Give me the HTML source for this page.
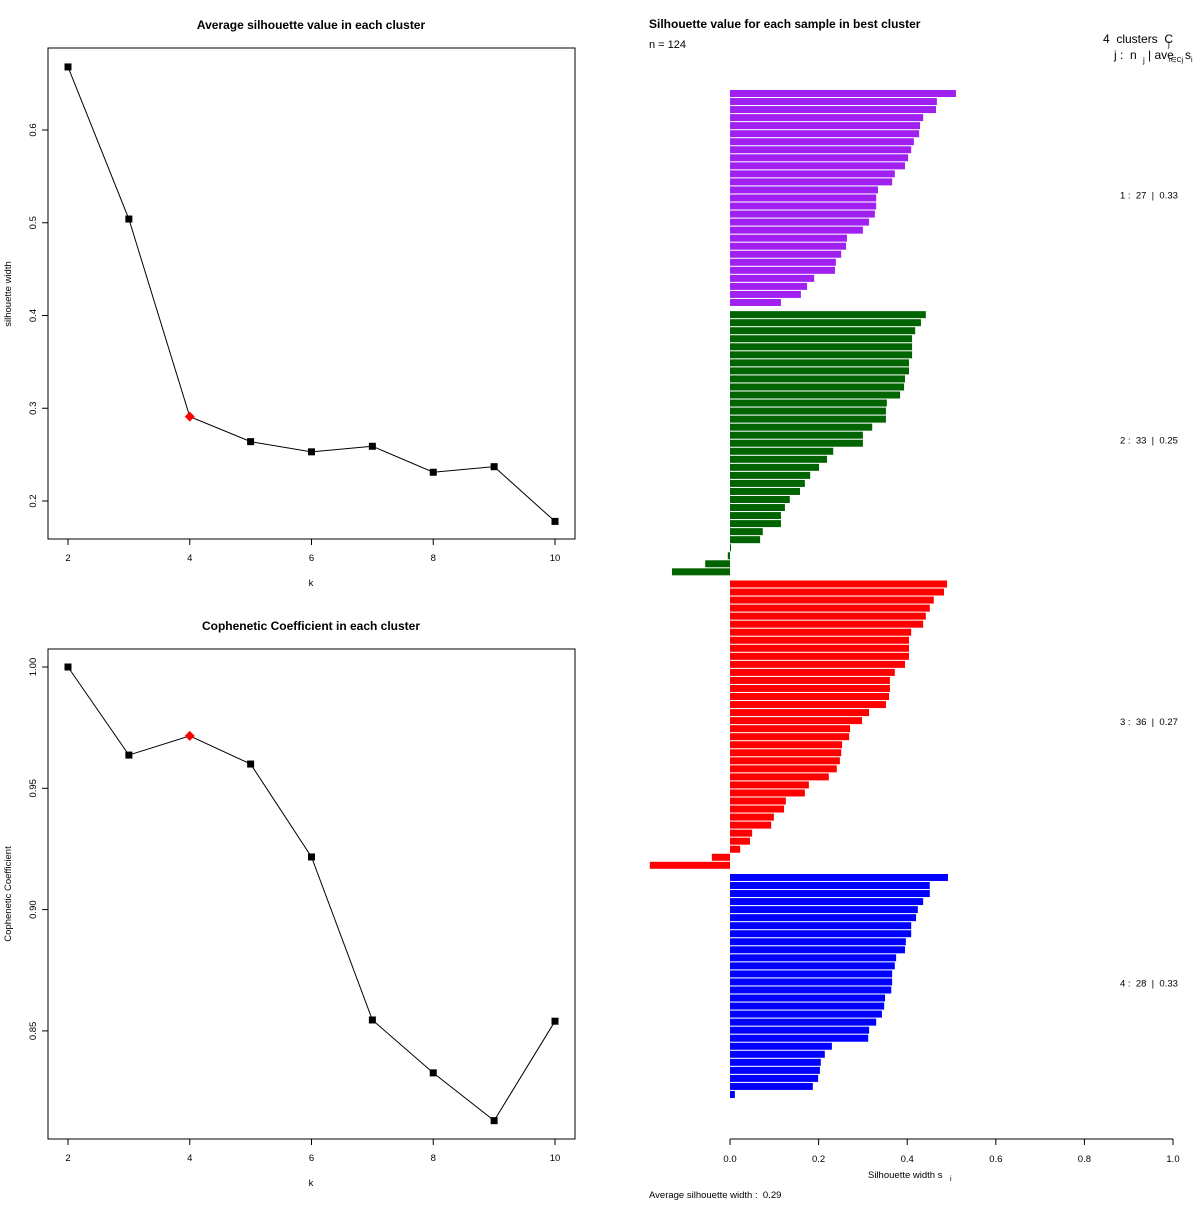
<!DOCTYPE html>
<html><head><meta charset="utf-8"><style>
body{margin:0;background:#fff;font-family:"Liberation Sans",sans-serif;}
svg text{font-family:"Liberation Sans",sans-serif;white-space:pre;}
</style></head><body>
<svg id="c" width="1200" height="1200" viewBox="0 0 1200 1200" xmlns="http://www.w3.org/2000/svg">
<rect width="1200" height="1200" fill="#fff"/>
</svg>
<script>
const ks=[2,3,4,5,6,7,8,9,10];
const silAvg=[0.668,0.504,0.291,0.264,0.253,0.259,0.231,0.237,0.178];
const coph=[1.0,0.9637,0.9716,0.960,0.9217,0.8545,0.8327,0.813,0.854];
const bestIdx=2;
const silTicks=[0.2,0.3,0.4,0.5,0.6];
const cophTicks=[0.85,0.90,0.95,1.00];
const kTicks=[2,4,6,8,10];
const c1=[0.51,0.467,0.465,0.436,0.429,0.427,0.415,0.409,0.402,0.395,0.372,0.366,0.334,0.330,0.330,0.327,0.314,0.300,0.264,0.262,0.251,0.239,0.237,0.190,0.174,0.160,0.115];
const c2=[0.442,0.431,0.418,0.411,0.411,0.411,0.404,0.404,0.395,0.393,0.384,0.354,0.352,0.352,0.321,0.300,0.300,0.233,0.219,0.201,0.181,0.169,0.158,0.135,0.124,0.115,0.115,0.074,0.068,0.0,-0.005,-0.056,-0.131];
const c3=[0.490,0.483,0.460,0.451,0.442,0.436,0.409,0.404,0.404,0.404,0.395,0.372,0.361,0.361,0.359,0.352,0.314,0.298,0.271,0.269,0.253,0.251,0.248,0.241,0.223,0.178,0.169,0.126,0.122,0.099,0.093,0.050,0.045,0.023,-0.041,-0.181];
const c4=[0.492,0.451,0.451,0.436,0.424,0.420,0.409,0.409,0.397,0.395,0.375,0.372,0.366,0.366,0.364,0.350,0.348,0.343,0.330,0.314,0.312,0.230,0.214,0.205,0.203,0.199,0.187,0.011];
const clusters=[c1,c2,c3,c4];
const clusterColors=["#A020F0","#006400","#FF0000","#0000FF"];
const clusterLabels=["1 :  27  |  0.33","2 :  33  |  0.25","3 :  36  |  0.27","4 :  28  |  0.33"];
const sTicks=[0,0.2,0.4,0.6,0.8,1.0];
const sTickLabels=["0.0","0.2","0.4","0.6","0.8","1.0"];

const svg=document.getElementById('c');
const NS="http://www.w3.org/2000/svg";
function el(tag,attrs,parent){const e=document.createElementNS(NS,tag);for(const k in attrs)e.setAttribute(k,attrs[k]);(parent||svg).appendChild(e);return e;}
function txt(x,y,s,attrs){const e=el('text',Object.assign({x:x,y:y,'font-size':9.5,fill:'#000'},attrs||{}));e.textContent=s;return e;}

const kx=k=>68+(k-2)*60.875;
function linePanel(top,bottom,ymap,vals,ticks,fmt,title,ylab,ylabY,pname){
  const g=el('g',{});
  
  
  const t=txt(311,top-19,title,{'font-size':12,'font-weight':'bold','text-anchor':'middle'});
  
  el('rect',{x:48,y:top,width:527,height:bottom-top,fill:'none',stroke:'#000'},g);
  kTicks.forEach(k=>{el('line',{x1:kx(k),x2:kx(k),y1:bottom,y2:bottom+6,stroke:'#000'},g);
    const l=txt(kx(k),bottom+22,String(k),{'text-anchor':'middle'});});
  ticks.forEach(v=>{const y=ymap(v);el('line',{x1:42,x2:48,y1:y,y2:y,stroke:'#000'},g);
    const l=txt(36,y,fmt(v),{'text-anchor':'middle',transform:`rotate(-90 36 ${y})`});});
  const xl=txt(311,bottom+47,'k',{'text-anchor':'middle'});
  const yl=txt(11,ylabY,ylab,{'text-anchor':'middle',transform:`rotate(-90 11 ${ylabY})`});
  const pts=ks.map((k,i)=>kx(k)+','+ymap(vals[i])).join(' ');
  const pl=el('polyline',{points:pts,fill:'none',stroke:'#000','stroke-width':1},g);
  
  ks.forEach((k,i)=>{const x=kx(k),y=ymap(vals[i]);
    if(i===bestIdx){const p=el('polygon',{points:`${x},${y-5} ${x+5},${y} ${x},${y+5} ${x-5},${y}`,fill:'#FF0000'},g);
      }
    else{const p=el('rect',{x:x-3.5,y:y-3.5,width:7,height:7,fill:'#000'},g);
      }
  });
}
const y1=v=>501-(v-0.2)*927.5;
linePanel(48,539,y1,silAvg,silTicks,v=>v.toFixed(1),'Average silhouette value in each cluster','silhouette width',294,'silhouette-panel');
const y2=v=>667+(1.0-v)*2426;
linePanel(649,1139,y2,coph,cophTicks,v=>v.toFixed(2),'Cophenetic Coefficient in each cluster','Cophenetic Coefficient',894,'cophenetic-panel');

// silhouette plot
const sx=v=>730+v*443;
const step=8.037,top0=90,gapF=0.515;
let gi=0;
const t=txt(649,28,'Silhouette value for each sample in best cluster',{'font-size':12,'font-weight':'bold'});

const n=txt(649,48,'n = 124',{'font-size':11});
const h1=txt(1103,43,'4  clusters  C',{'font-size':12});
txt(1168,47,'j',{'font-size':8});
const h2=txt(1114,59,'j :  n',{'font-size':12});
txt(1143,63,'j',{'font-size':8});txt(1148,59,'| ave',{'font-size':12});txt(1169,62,'i∈Cj',{'font-size':7});txt(1185,59,'s',{'font-size':12});txt(1191,62,'i',{'font-size':7});
clusters.forEach((c,ci)=>{
  const g=el('g',{});
  
  
  let first=null,last=null;
  c.forEach((v,i)=>{
    const y=top0+(gi+ci*gapF)*step;
    if(first===null)first=y;last=y;
    const x0=Math.min(sx(0),sx(v)),w=Math.abs(sx(v)-sx(0));
    const r=el('rect',{x:x0,y:y,width:Math.max(w,v===0?1:w),height:7,fill:clusterColors[ci]},g);
    
    
    gi++;
  });
  const lab=txt(1120,(first+last)/2+4,clusterLabels[ci],{'font-size':9.5});
  
});
const ax=el('g',{});


el('line',{x1:sx(0),x2:sx(1),y1:1139,y2:1139,stroke:'#000'},ax);
sTicks.forEach((v,i)=>{el('line',{x1:sx(v),x2:sx(v),y1:1139,y2:1145,stroke:'#000'},ax);
  const l=txt(sx(v),1162,sTickLabels[i],{'text-anchor':'middle'});});
const st=txt(868,1178,'Silhouette width s',{'font-size':9.5});
txt(950,1181,'i',{'font-size':7});
const av=txt(649,1198,'Average silhouette width :  0.29',{'font-size':9.5});
</script>
</body></html>
